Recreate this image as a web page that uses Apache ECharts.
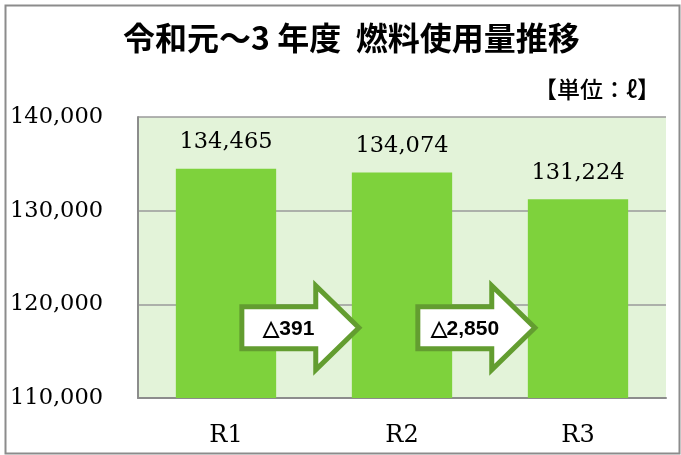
<!DOCTYPE html>
<html><head><meta charset="utf-8">
<script src="https://cdn.jsdelivr.net/npm/echarts@6/dist/echarts.min.js"></script>
<style>html,body{margin:0;padding:0;background:#fff}#c{width:681px;height:455px}</style>
</head><body><div id="c"></div>
<script>
const titleText = '令和元～3 年度  燃料使用量推移';
const unitText = '【単位：ℓ】';
const categories = ['R1', 'R2', 'R3'];
const usage = [134465, 134074, 131224];
const yTicks = { min: 110000, max: 140000, interval: 10000 };

const fmt = v => Number(v).toLocaleString('en-US');
const arrowData = [];
for (let i = 0; i < usage.length - 1; i++) {
  arrowData.push([i, yTicks.min, '△' + fmt(usage[i] - usage[i + 1])]);
}

const chart = echarts.init(document.getElementById('c'), null, { renderer: 'canvas' });
chart.setOption({
  backgroundColor: '#fff',
  animation: false,
  title: [{
    text: titleText, left: 118, top: 17,
    textStyle: { fontFamily: 'Noto Sans CJK JP', fontWeight: 'bold', fontSize: 32, color: '#000' }
  }, {
    text: unitText, right: 16, top: 73,
    textStyle: { fontFamily: 'Noto Sans CJK JP', fontWeight: 500, fontSize: 23, color: '#000' }
  }],
  graphic: [{
    type: 'rect', left: 3, top: 3,
    shape: { width: 674, height: 448 },
    style: { fill: 'none', stroke: '#8c8c8c', lineWidth: 2 }, silent: true
  }],
  grid: { left: 138, right: 15, top: 117, bottom: 57, show: true, backgroundColor: '#e3f3d9', borderWidth: 0 },
  xAxis: {
    type: 'category', data: categories,
    axisTick: { show: false },
    axisLine: { lineStyle: { color: '#8c8c8c', width: 2 } },
    axisLabel: { margin: 26, fontFamily: 'DejaVu Serif', fontSize: 24, color: '#000' }
  },
  yAxis: {
    type: 'value', min: yTicks.min, max: yTicks.max, interval: yTicks.interval,
    axisLine: { show: true, lineStyle: { color: '#8c8c8c', width: 2 } },
    axisTick: { show: false },
    splitLine: { lineStyle: { color: '#9a9a9a', width: 1.5 } },
    axisLabel: { align: 'left', margin: 128, lineHeight: 30, padding: [6, 0, 0, 0], fontFamily: 'DejaVu Serif', fontSize: 22.5, color: '#000', formatter: fmt }
  },
  series: [{
    type: 'bar', data: usage, barWidth: '57%',
    itemStyle: { color: '#7ed23c' },
    label: { show: true, position: 'top', distance: 15, fontFamily: 'DejaVu Serif', fontSize: 22.5, color: '#000', formatter: p => fmt(p.value) }
  }, {
    type: 'custom', data: arrowData, z: 5,
    renderItem: function (params, api) {
      const i = api.value(0);
      const c0 = api.coord([i, yTicks.min]);
      const cTop = api.coord([i, yTicks.max]);
      const w = api.size([1, 0])[0];
      const cy = c0[1] - 0.25 * (c0[1] - cTop[1]);
      const x0 = c0[0] + 0.09 * w;
      const xb = c0[0] + 0.51 * w;
      const xt = c0[0] + 0.755 * w;
      const bh = 21, hh = 42;
      const label = arrowData[params.dataIndex][2];
      return {
        type: 'group',
        children: [{
          type: 'polygon',
          shape: { points: [[x0, cy - bh], [xb, cy - bh], [xb, cy - hh], [xt, cy], [xb, cy + hh], [xb, cy + bh], [x0, cy + bh]] },
          style: { fill: '#fff', stroke: '#639d30', lineWidth: 5, lineJoin: 'miter' }
        }, {
          type: 'text',
          style: { text: label, x: (x0 + xb) / 2 + 10, y: cy + 1, align: 'center', verticalAlign: 'middle',
            fontFamily: 'Liberation Sans', fontWeight: 'bold', fontSize: 21, fill: '#000' }
        }]
      };
    }
  }]
});
</script></body></html>
